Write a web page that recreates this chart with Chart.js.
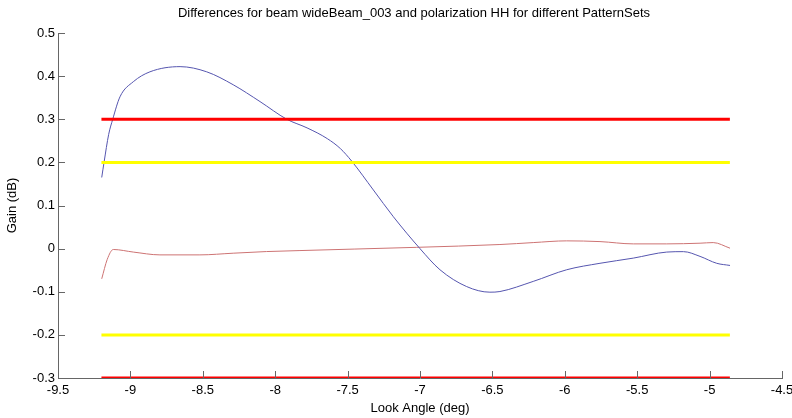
<!DOCTYPE html>
<html>
<head>
<meta charset="utf-8">
<title>Differences for beam wideBeam_003</title>
<script src="https://cdn.jsdelivr.net/npm/chart.js@4/dist/chart.umd.min.js"></script>
<style>
  body { margin: 0; background: #fff; }
  #wrap { width: 792px; height: 418px; position: relative; }
</style>
</head>
<body>
<div id="wrap"><canvas id="diffChart"></canvas></div>
<script>
// values
const titleText = 'Differences for beam wideBeam_003 and polarization HH for different PatternSets';

const blueX = [-9.198, -9.182, -9.15, -9.122, -9.072, -8.98, -8.865, -8.657, -8.473, -8.29, -8.105,
               -7.92, -7.78, -7.64, -7.55, -7.472, -7.322, -7.184, -7.0, -6.862, -6.678, -6.517, -6.448,
               -6.218, -5.987, -5.757, -5.527, -5.296, -5.18, -5.066, -4.951, -4.859];
const blueY = [0.165, 0.2, 0.265, 0.30, 0.352, 0.387, 0.41, 0.422, 0.41, 0.38, 0.341,
               0.30, 0.28, 0.255, 0.232, 0.203, 0.136, 0.074, 0.0, -0.049, -0.088, -0.101, -0.0995,
               -0.076, -0.049, -0.034, -0.022, -0.008, -0.007, -0.018, -0.034, -0.039];

const redX = [-9.198, -9.16, -9.118, -8.98, -8.796, -8.52, -8.29, -8.06, -7.829, -7.45,
              -7.023, -6.448, -6.218, -5.987, -5.757, -5.527, -5.296, -5.066, -4.975, -4.859];
const redY = [-0.07, -0.025, -0.002, -0.008, -0.0145, -0.0145, -0.0106, -0.0068, -0.0045, -0.001,
              0.003, 0.0095, 0.014, 0.018, 0.0163, 0.011, 0.011, 0.0126, 0.014, 0.001];

const limitX = [-9.2, -4.86];
const redLimits = [0.3, -0.3];
const yellowLimits = [0.2, -0.2];

const xTicks = [-9.5, -9, -8.5, -8, -7.5, -7, -6.5, -6, -5.5, -5, -4.5];
const yTicks = [-0.3, -0.2, -0.1, 0, 0.1, 0.2, 0.3, 0.4, 0.5];

function toPoints(xs, ys) {
    return xs.map((x, i) => ({ x: x, y: ys[i] }));
}

function limitLine(level, color) {
    return {
        data: limitX.map(x => ({ x: x, y: level })),
        borderColor: color,
        borderWidth: 3,
        pointRadius: 0,
        showLine: true
    };
}

const fmt = v => String(parseFloat(Number(v).toFixed(2)));

// MATLAB style inward ticks + title over the plot area
const axesExtras = {
    id: 'axesExtras',
    afterDatasetsDraw(chart) {
        const ctx = chart.ctx;
        const xs = chart.scales.x, ys = chart.scales.y;
        const area = chart.chartArea;
        ctx.save();
        ctx.strokeStyle = '#666';
        ctx.lineWidth = 1;
        ctx.beginPath();
        xTicks.forEach(v => {
            const px = Math.round(xs.getPixelForValue(v)) + 0.5;
            ctx.moveTo(px, area.bottom);
            ctx.lineTo(px, area.bottom - 7);
        });
        yTicks.forEach(v => {
            const py = Math.round(ys.getPixelForValue(v)) + 0.5;
            ctx.moveTo(area.left, py);
            ctx.lineTo(area.left + 7, py);
        });
        ctx.stroke();

        ctx.fillStyle = '#000';
        ctx.font = '13px "Liberation Sans", Arial, sans-serif';
        ctx.textAlign = 'center';
        ctx.textBaseline = 'middle';
        ctx.fillText(titleText, (area.left + area.right) / 2 - 6, 13);
        ctx.restore();
    }
};

const ctxDiff = document.getElementById('diffChart').getContext('2d');
const diffChart = new Chart(ctxDiff, {
    type: 'scatter',
    data: {
        datasets: [
            limitLine(redLimits[0], '#ff0000'),
            limitLine(redLimits[1], '#ff0000'),
            limitLine(yellowLimits[0], '#ffff00'),
            limitLine(yellowLimits[1], '#ffff00'),
            {
                data: toPoints(blueX, blueY),
                borderColor: 'rgb(85, 85, 175)',
                borderWidth: 1,
                pointRadius: 0,
                showLine: true,
                cubicInterpolationMode: 'monotone'
            },
            {
                data: toPoints(redX, redY),
                borderColor: 'rgb(205, 115, 115)',
                borderWidth: 1,
                pointRadius: 0,
                showLine: true,
                cubicInterpolationMode: 'monotone'
            }
        ]
    },
    options: {
        responsive: true,
        maintainAspectRatio: false,
        animation: false,
        layout: { padding: { top: 33, right: 10, left: 0, bottom: 0 } },
        plugins: {
            legend: { display: false },
            tooltip: { enabled: false },
            title: { display: false }
        },
        scales: {
            x: {
                type: 'linear',
                min: -9.5,
                max: -4.5,
                afterBuildTicks: s => { s.ticks = xTicks.map(v => ({ value: v })); },
                afterFit: s => { s.height = 40; s.paddingLeft = 0; s.paddingRight = 0; },
                ticks: {
                    color: '#000',
                    padding: 5,
                    maxRotation: 0,
                    autoSkip: false,
                    font: { family: '"Liberation Sans", Arial, sans-serif', size: 13 },
                    callback: v => fmt(v)
                },
                grid: { drawOnChartArea: false, drawTicks: false },
                border: { display: true, color: '#666' },
                title: {
                    display: true,
                    text: 'Look Angle (deg)',
                    color: '#000',
                    padding: { top: 0, bottom: 2 },
                    font: { family: '"Liberation Sans", Arial, sans-serif', size: 13 }
                }
            },
            y: {
                type: 'linear',
                min: -0.3,
                max: 0.5,
                afterBuildTicks: s => { s.ticks = yTicks.map(v => ({ value: v })); },
                afterFit: s => { s.width = 58; s.paddingTop = 0; s.paddingBottom = 0; },
                ticks: {
                    color: '#000',
                    padding: 3,
                    autoSkip: false,
                    font: { family: '"Liberation Sans", Arial, sans-serif', size: 13 },
                    callback: v => fmt(v)
                },
                grid: { drawOnChartArea: false, drawTicks: false },
                border: { display: true, color: '#666' },
                title: {
                    display: true,
                    text: 'Gain (dB)',
                    color: '#000',
                    padding: { top: 5, bottom: 0 },
                    font: { family: '"Liberation Sans", Arial, sans-serif', size: 13 }
                }
            }
        }
    },
    plugins: [axesExtras]
});
</script>
</body>
</html>
